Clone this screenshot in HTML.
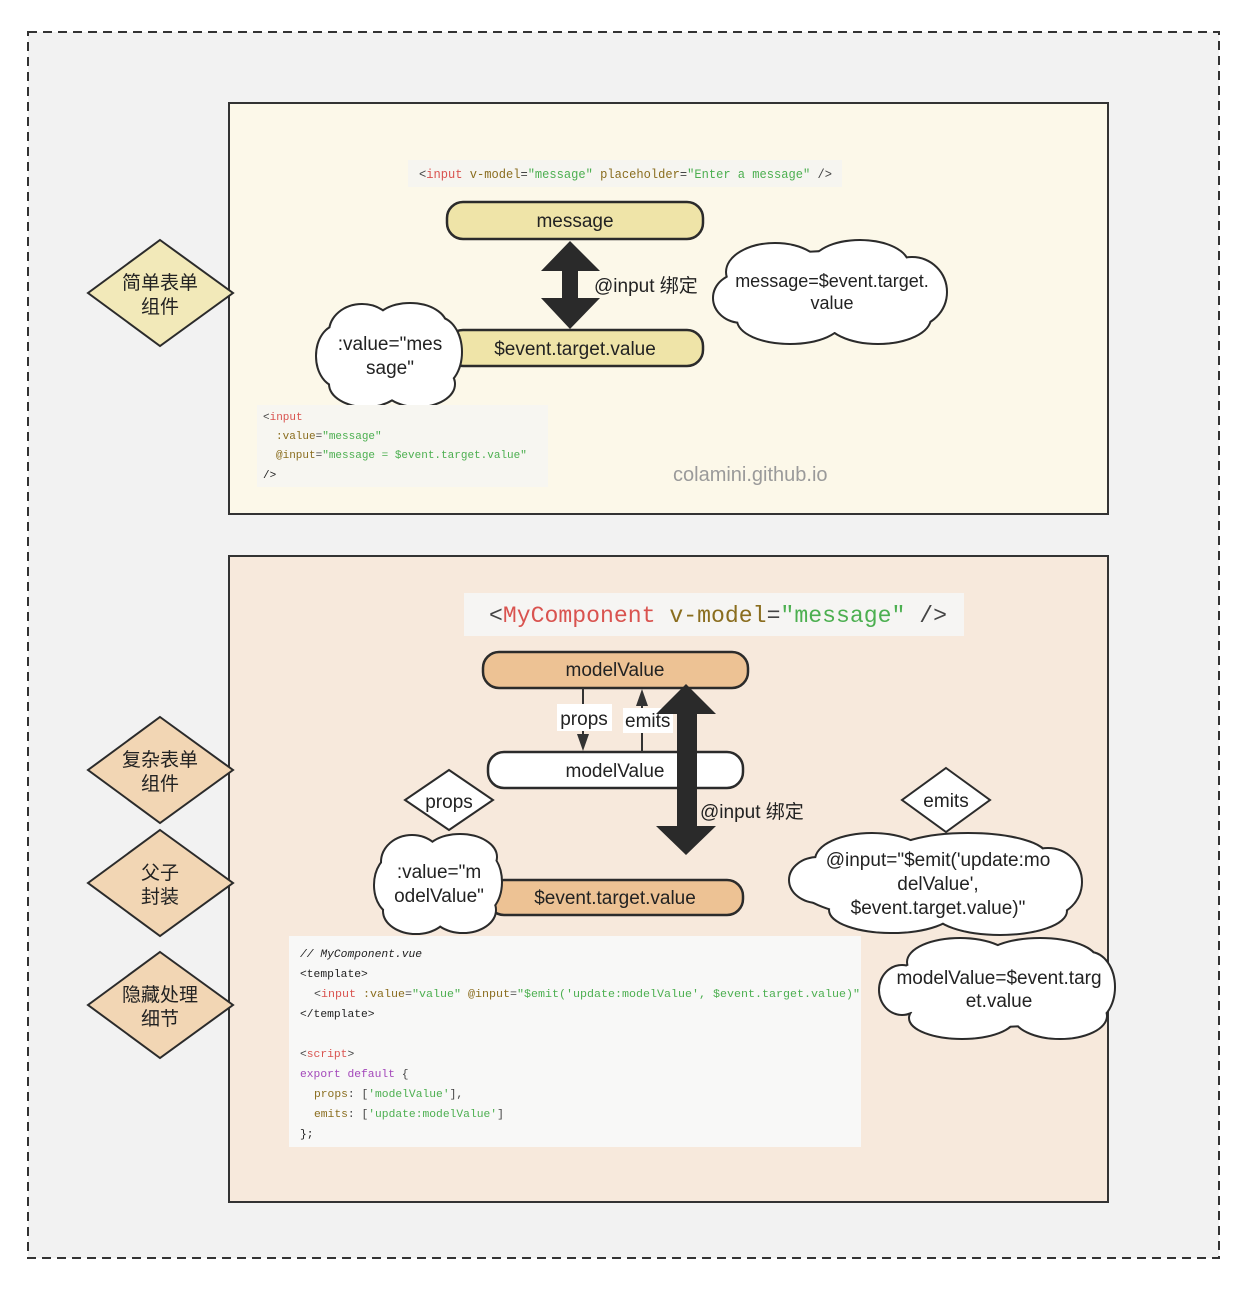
<!DOCTYPE html>
<html><head><meta charset="utf-8"><style>
html,body{margin:0;padding:0;background:#fff;}
svg{display:block}
text{font-family:"Liberation Sans","Noto Sans CJK SC",sans-serif;fill:#222}
.m,.m text,text.m{font-family:"Liberation Mono","Noto Sans CJK SC",monospace}
</style></head><body>
<svg width="1248" height="1292" viewBox="0 0 1248 1292" xmlns="http://www.w3.org/2000/svg">
<defs>
<g id="c1"><ellipse cx="830" cy="292" rx="110" ry="40"/><ellipse cx="775" cy="272" rx="48" ry="28"/><ellipse cx="860" cy="265" rx="48" ry="24"/><ellipse cx="912" cy="292" rx="34" ry="34"/><ellipse cx="878" cy="318" rx="52" ry="25"/><ellipse cx="790" cy="320" rx="52" ry="23"/><ellipse cx="742" cy="298" rx="28" ry="24"/></g>
<g id="c2"><ellipse cx="390" cy="355" rx="68" ry="40"/><ellipse cx="362" cy="332" rx="32" ry="27"/><ellipse cx="410" cy="326" rx="36" ry="22"/><ellipse cx="438" cy="352" rx="23" ry="34"/><ellipse cx="418" cy="384" rx="36" ry="22"/><ellipse cx="366" cy="384" rx="36" ry="22"/><ellipse cx="338" cy="356" rx="21" ry="30"/></g>
<g id="c3"><ellipse cx="440" cy="885" rx="60" ry="38"/><ellipse cx="412" cy="862" rx="30" ry="26"/><ellipse cx="460" cy="857" rx="36" ry="22"/><ellipse cx="482" cy="882" rx="19" ry="30"/><ellipse cx="463" cy="910" rx="32" ry="22"/><ellipse cx="416" cy="911" rx="32" ry="22"/><ellipse cx="393" cy="885" rx="18" ry="28"/></g>
<g id="c4"><ellipse cx="935" cy="882" rx="140" ry="40"/><ellipse cx="872" cy="860" rx="56" ry="26"/><ellipse cx="968" cy="856" rx="78" ry="22"/><ellipse cx="1048" cy="882" rx="33" ry="33"/><ellipse cx="1000" cy="911" rx="66" ry="23"/><ellipse cx="892" cy="910" rx="62" ry="22"/><ellipse cx="818" cy="880" rx="28" ry="22"/></g>
<g id="c5"><ellipse cx="997" cy="988" rx="110" ry="38"/><ellipse cx="960" cy="962" rx="52" ry="23"/><ellipse cx="1040" cy="960" rx="56" ry="21"/><ellipse cx="1090" cy="987" rx="24" ry="34"/><ellipse cx="1060" cy="1016" rx="46" ry="22"/><ellipse cx="962" cy="1018" rx="52" ry="20"/><ellipse cx="902" cy="990" rx="22" ry="24"/></g>
</defs>
<rect x="28" y="32" width="1191" height="1226" fill="#f2f2f2" stroke="#333" stroke-width="2" stroke-dasharray="9,6"/>
<rect x="229" y="103" width="879" height="411" fill="#fcf8e9" stroke="#333" stroke-width="2"/>
<rect x="229" y="556" width="879" height="646" fill="#f7e9dc" stroke="#333" stroke-width="2"/>
<g stroke="#2b2b2b" stroke-width="2">
<polygon points="160,240 233,293 160,346 88,293" fill="#f2e9b9"/>
<polygon points="160,717 233,770 160,823 88,770" fill="#f2d6b4"/>
<polygon points="160,830 233,883 160,936 88,883" fill="#f2d6b4"/>
<polygon points="160,952 233,1005 160,1058 88,1005" fill="#f2d6b4"/>
</g>
<g font-size="19" text-anchor="middle">
<text x="160" y="289">简单表单</text><text x="160" y="313">组件</text>
<text x="160" y="766">复杂表单</text><text x="160" y="790">组件</text>
<text x="160" y="879">父子</text><text x="160" y="903">封装</text>
<text x="160" y="1001">隐藏处理</text><text x="160" y="1025">细节</text>
</g>
<rect x="408" y="160" width="434" height="27" fill="#f6f5f0"/>
<text class="m" x="419" y="178" font-size="13" textLength="413" lengthAdjust="spacingAndGlyphs"><tspan fill="#444">&lt;</tspan><tspan fill="#d9534f">input</tspan> <tspan fill="#8a6d1e">v-model</tspan><tspan fill="#444">=</tspan><tspan fill="#4caf50">"message"</tspan> <tspan fill="#8a6d1e">placeholder</tspan><tspan fill="#444">=</tspan><tspan fill="#4caf50">"Enter a message"</tspan> <tspan fill="#444">/&gt;</tspan></text>
<rect x="447" y="202" width="256" height="37" rx="16" fill="#efe4a8" stroke="#2b2b2b" stroke-width="2.5"/>
<text x="575" y="227" font-size="19" text-anchor="middle">message</text>
<rect x="447" y="330" width="256" height="36" rx="16" fill="#efe4a8" stroke="#2b2b2b" stroke-width="2.5"/>
<text x="575" y="355" font-size="19" text-anchor="middle">$event.target.value</text>
<polygon points="570,241 600,271 578,271 578,298 600,298 570,329 541,298 562,298 562,271 541,271" fill="#2a2a2a"/>
<text x="594" y="292" font-size="19">@input 绑定</text>
<use href="#c1" fill="none" stroke="#2b2b2b" stroke-width="4"/><use href="#c1" fill="#fff"/>
<text x="832" y="287" font-size="18" text-anchor="middle">message=$event.target.</text>
<text x="832" y="309" font-size="18" text-anchor="middle">value</text>
<use href="#c2" fill="none" stroke="#2b2b2b" stroke-width="4"/><use href="#c2" fill="#fff"/>
<text x="390" y="350" font-size="19" text-anchor="middle">:value="mes</text>
<text x="390" y="374" font-size="19" text-anchor="middle">sage"</text>
<rect x="257" y="405" width="291" height="82" fill="#f7f6f1"/>
<g class="m" font-size="11">
<text x="263" y="420"><tspan fill="#444">&lt;</tspan><tspan fill="#d9534f">input</tspan></text>
<text x="276" y="439"><tspan fill="#8a6d1e">:value</tspan><tspan fill="#444">=</tspan><tspan fill="#4caf50">"message"</tspan></text>
<text x="276" y="458"><tspan fill="#8a6d1e">@input</tspan><tspan fill="#444">=</tspan><tspan fill="#4caf50">"message = $event.target.value"</tspan></text>
<text x="263" y="478" fill="#444">/&gt;</text>
</g>
<text x="673" y="481" font-size="20" style="fill:#9a9a9a">colamini.github.io</text>

<rect x="464" y="593" width="500" height="43" fill="#f6f5f3"/>
<text class="m" x="489" y="622" font-size="23" textLength="458" lengthAdjust="spacingAndGlyphs"><tspan fill="#444">&lt;</tspan><tspan fill="#d9534f">MyComponent</tspan> <tspan fill="#8a6d1e">v-model</tspan><tspan fill="#444">=</tspan><tspan fill="#4caf50">"message"</tspan> <tspan fill="#444">/&gt;</tspan></text>
<rect x="483" y="652" width="265" height="36" rx="16" fill="#edc294" stroke="#2b2b2b" stroke-width="2.5"/>
<text x="615" y="676" font-size="19" text-anchor="middle">modelValue</text>
<rect x="488" y="752" width="255" height="36" rx="16" fill="#fff" stroke="#2b2b2b" stroke-width="2.5"/>
<text x="615" y="777" font-size="19" text-anchor="middle">modelValue</text>
<rect x="488" y="880" width="255" height="35" rx="16" fill="#edc294" stroke="#2b2b2b" stroke-width="2.5"/>
<text x="615" y="904" font-size="19" text-anchor="middle">$event.target.value</text>
<line x1="583" y1="688" x2="583" y2="738" stroke="#333" stroke-width="2"/>
<polygon points="577,734 589,734 583,751" fill="#333"/>
<line x1="642" y1="752" x2="642" y2="702" stroke="#333" stroke-width="2"/>
<polygon points="636,706 648,706 642,689" fill="#333"/>
<rect x="557" y="704" width="55" height="27" fill="#fff"/>
<text x="584" y="725" font-size="19" text-anchor="middle">props</text>
<rect x="623" y="708" width="50" height="25" fill="#fff"/>
<text x="625" y="727" font-size="19">emits</text>
<polygon points="686,684 716,714 697,714 697,826 716,826 686,855 656,826 677,826 677,714 656,714" fill="#2a2a2a"/>
<text x="700" y="818" font-size="19">@input 绑定</text>
<polygon points="449,770 493,800 449,830 405,800" fill="#fff" stroke="#2b2b2b" stroke-width="2"/>
<text x="449" y="808" font-size="19" text-anchor="middle">props</text>
<polygon points="946,768 990,800 946,832 902,800" fill="#fff" stroke="#2b2b2b" stroke-width="2"/>
<text x="946" y="807" font-size="19" text-anchor="middle">emits</text>
<use href="#c3" fill="none" stroke="#2b2b2b" stroke-width="4"/><use href="#c3" fill="#fff"/>
<text x="439" y="878" font-size="19" text-anchor="middle">:value="m</text>
<text x="439" y="902" font-size="19" text-anchor="middle">odelValue"</text>
<use href="#c4" fill="none" stroke="#2b2b2b" stroke-width="4"/><use href="#c4" fill="#fff"/>
<text x="938" y="866" font-size="19" text-anchor="middle">@input="$emit('update:mo</text>
<text x="938" y="890" font-size="19" text-anchor="middle">delValue',</text>
<text x="938" y="914" font-size="19" text-anchor="middle">$event.target.value)"</text>
<use href="#c5" fill="none" stroke="#2b2b2b" stroke-width="4"/><use href="#c5" fill="#fff"/>
<text x="999" y="984" font-size="19" text-anchor="middle">modelValue=$event.targ</text>
<text x="999" y="1007" font-size="19" text-anchor="middle">et.value</text>
<rect x="289" y="936" width="572" height="211" fill="#f8f8f7"/>
<g class="m" font-size="11.3">
<text x="300" y="957" fill="#aaa" font-style="italic">// MyComponent.vue</text>
<text x="300" y="977" fill="#444">&lt;template&gt;</text>
<text x="314" y="997" textLength="546" lengthAdjust="spacingAndGlyphs"><tspan fill="#444">&lt;</tspan><tspan fill="#d9534f">input</tspan> <tspan fill="#8a6d1e">:value</tspan><tspan fill="#444">=</tspan><tspan fill="#4caf50">"value"</tspan> <tspan fill="#8a6d1e">@input</tspan><tspan fill="#444">=</tspan><tspan fill="#4caf50">"$emit('update:modelValue', $event.target.value)"</tspan></text>
<text x="300" y="1017" fill="#444">&lt;/template&gt;</text>
<text x="300" y="1057"><tspan fill="#444">&lt;</tspan><tspan fill="#d9534f">script</tspan><tspan fill="#444">&gt;</tspan></text>
<text x="300" y="1077"><tspan fill="#a347ba">export default</tspan><tspan fill="#444"> {</tspan></text>
<text x="314" y="1097"><tspan fill="#8a6d1e">props</tspan><tspan fill="#444">: [</tspan><tspan fill="#4caf50">'modelValue'</tspan><tspan fill="#444">],</tspan></text>
<text x="314" y="1117"><tspan fill="#8a6d1e">emits</tspan><tspan fill="#444">: [</tspan><tspan fill="#4caf50">'update:modelValue'</tspan><tspan fill="#444">]</tspan></text>
<text x="300" y="1137" fill="#444">};</text>
</g>
</svg>
</body></html>
